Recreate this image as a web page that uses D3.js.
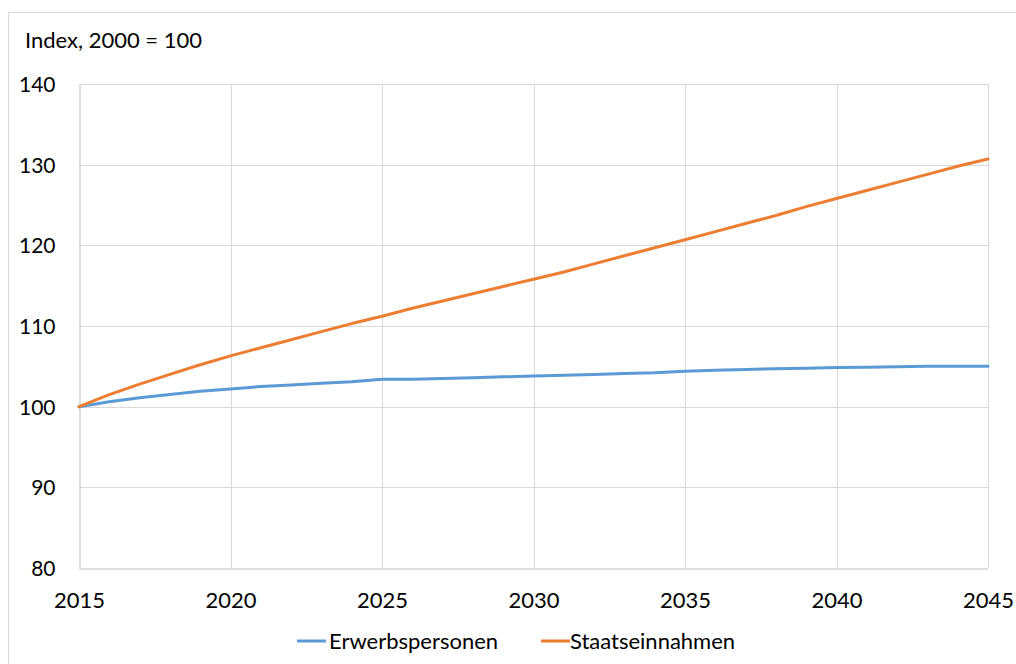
<!DOCTYPE html>
<html><head><meta charset="utf-8">
<script src="https://cdn.jsdelivr.net/npm/d3@7"></script>
<style>body{margin:0;background:#fff}svg{display:block}text{font-family:Lato,"Open Sans",sans-serif;fill:#000}</style>
</head><body><svg id="c" width="1016" height="664"></svg>
<script>
const years = d3.range(2015, 2046);
const erwerbspersonen = [100,100.6,101.1,101.5,101.9,102.2,102.5,102.7,102.9,103.1,103.4,103.4,103.5,103.6,103.7,103.8,103.9,104.0,104.1,104.2,104.4,104.5,104.6,104.7,104.75,104.85,104.9,104.95,105.0,105.0,105.0];
const staatseinnahmen = [100,101.5,102.8,104.0,105.2,106.3,107.3,108.3,109.3,110.3,111.2,112.2,113.1,114.0,114.9,115.8,116.7,117.7,118.7,119.7,120.7,121.7,122.7,123.7,124.8,125.8,126.8,127.8,128.8,129.8,130.7];
const seriesNames = ["Erwerbspersonen","Staatseinnahmen"];
const seriesColors = ["#5B9BD5","#ED7D31"];
const xTicks = [2015,2020,2025,2030,2035,2040,2045];
const yTicks = [80,90,100,110,120,130,140];
const yLabel = "Index, 2000 = 100";

const svg = d3.select("#c");
const L=79,R=988,T=84,B=568;
const x = d3.scaleLinear().domain([2015,2045]).range([L,R]);
const y = d3.scaleLinear().domain([80,140]).range([B,T]);

// outer frame
svg.append("rect").attr("x",8.5).attr("y",12.5).attr("width",1100).attr("height",800)
  .attr("fill","none").attr("stroke","#d9d9d9");

// grid
svg.append("g").selectAll("line").data(yTicks.slice(1)).join("line")
  .attr("x1",L).attr("x2",R).attr("y1",d=>Math.round(y(d))+0.5).attr("y2",d=>Math.round(y(d))+0.5)
  .attr("stroke","#d9d9d9").attr("stroke-width",1);
svg.append("g").selectAll("line").data(xTicks.slice(1)).join("line")
  .attr("y1",T).attr("y2",B).attr("x1",d=>Math.round(x(d))+0.5).attr("x2",d=>Math.round(x(d))+0.5)
  .attr("stroke","#d9d9d9").attr("stroke-width",1);

// axes
const yAxis = d3.axisLeft(y).tickValues(yTicks).tickSize(0).tickPadding(24);
const gy = svg.append("g").attr("transform",`translate(${L+0.5},0)`).call(yAxis);
gy.select(".domain").attr("stroke","#bfbfbf");
gy.selectAll("text").attr("font-size",21).attr("font-family","Lato").attr("dy","0.35em");
const xAxis = d3.axisBottom(x).tickValues(xTicks).tickSize(0).tickFormat(d3.format("d")).tickPadding(24);
const gx = svg.append("g").attr("transform",`translate(0,${B+0.5})`).call(xAxis);
gx.select(".domain").attr("stroke","#bfbfbf");
gx.selectAll("text").attr("font-size",22).attr("font-family","Lato");

svg.append("text").attr("x",25).attr("y",48).attr("font-size",22).text(yLabel);

// lines
const line = d3.line().x((d,i)=>x(years[i])).y(d=>y(d));
[erwerbspersonen,staatseinnahmen].forEach((s,i)=>{
  svg.append("path").datum(s).attr("d",line).attr("fill","none")
    .attr("stroke",seriesColors[i]).attr("stroke-width",3).attr("stroke-linejoin","round").attr("stroke-linecap","round");
});

// legend
const leg = [{x:297,t:329},{x:541,t:570}];
seriesNames.forEach((n,i)=>{
  svg.append("line").attr("x1",leg[i].x).attr("x2",leg[i].x+29).attr("y1",641).attr("y2",641)
    .attr("stroke",seriesColors[i]).attr("stroke-width",3);
  svg.append("text").attr("x",leg[i].t).attr("y",641).attr("dy","0.35em").attr("font-size",22).text(n);
});
</script></body></html>
